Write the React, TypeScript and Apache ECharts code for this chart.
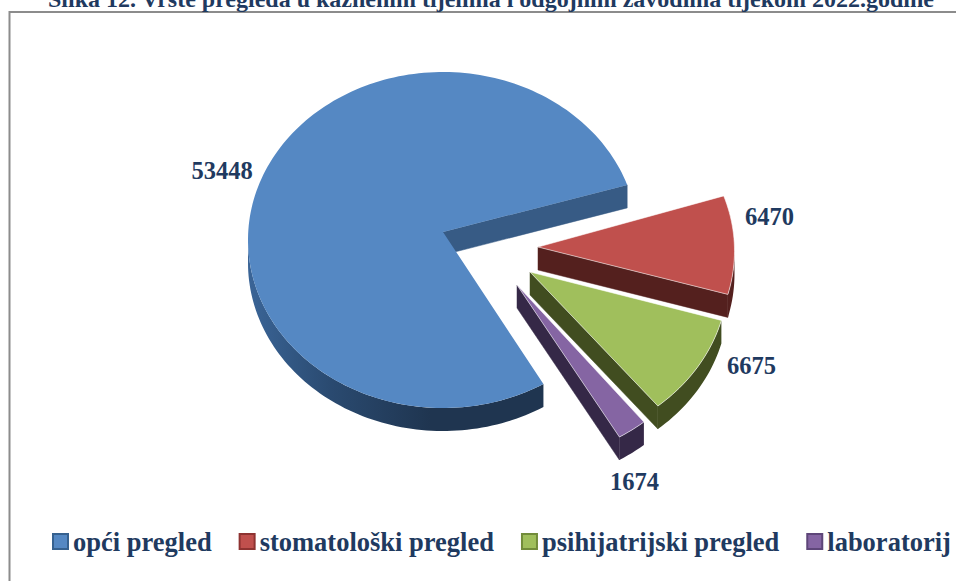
import React, { useEffect, useRef } from "react";
import * as echarts from "echarts";

const titleText = "Slika 12. Vrste pregleda u kaznenim tijelima i odgojnim zavodima tijekom 2022.godine";
const categories = ["opći pregled", "stomatološki pregled", "psihijatrijski pregled", "laboratorij"];
const values = [53448, 6470, 6675, 1674];

const topColors = ["#5588C3", "#C0504D", "#A0BF5C", "#8565A3"];
const wallColors = ["#375B85", "#54201E", "#414D20", "#352847"];
const legendBorders = ["#36618F", "#8E3331", "#728C3A", "#5E4679"];
const TEXT = "#1F3A60";
const FONT = "Liberation Serif";

// Perspective layout: explosion centres, apex shifts, label anchors
const centers = [[443, 240], [539.5, 251], [533, 277], [519, 293]];
const apexes = [[443, 232], [538, 247], [530, 272], [517, 285]];
const labelAnchors = [[222, 170], [769.5, 216], [751.5, 365], [634.5, 481]];
const RX = 195;
const RY = 168;
const DEPTH = 23;
const START_DEG = 59;
const total = values.reduce((a, b) => a + b, 0);

function sweep(i: number): [number, number] {
  let a = START_DEG;
  for (let k = 0; k < i; k++) a += (values[k] / total) * 360;
  return [a, a + (values[i] / total) * 360];
}

function renderSlice(i: number) {
  return (_: any, api: any) => {
    const v = api.value(0);
    const [a0, a1] = sweep(i);
    const [cx, cy] = centers[i];
    const [ax, ay] = apexes[i];
    const pt = (deg: number, dy = 0) => {
      const r = (deg * Math.PI) / 180;
      return [cx + RX * Math.cos(r), cy + RY * Math.sin(r) + dy];
    };
    const arc = (from: number, to: number, dy = 0) => {
      const out: number[][] = [];
      const n = Math.max(2, Math.ceil(Math.abs(to - from) / 1.5));
      for (let k = 0; k <= n; k++) out.push(pt(from + ((to - from) * k) / n, dy));
      return out;
    };
    const children: any[] = [];
    const wallQuad = (deg: number) => {
      const p = pt(deg);
      children.push({
        type: "polygon",
        shape: { points: [[ax, ay], p, [p[0], p[1] + DEPTH], [ax, ay + DEPTH]] },
        style: { fill: wallColors[i], stroke: wallColors[i], lineWidth: 0.5 },
      });
    };
    const cos = (d: number) => Math.cos((d * Math.PI) / 180);
    if (cos(a0) < 0) wallQuad(a0);
    if (cos(a1) > 0) wallQuad(a1);
    // outer rim: the part of the sweep that faces the viewer
    for (const [lo, hi] of [[0, 180], [360, 540]]) {
      const from = Math.max(a0, lo);
      const to = Math.min(a1, hi);
      if (to > from) {
        const upper = arc(from, to);
        const lower = arc(to, from, DEPTH);
        const fill =
          i === 0
            ? {
                type: "linear",
                global: true,
                x: 250,
                y: 0,
                x2: 430,
                y2: 0,
                colorStops: [
                  { offset: 0, color: "#3A6496" },
                  { offset: 0.45, color: "#2A4A70" },
                  { offset: 1, color: "#1F3550" },
                ],
              }
            : wallColors[i];
        children.push({
          type: "polygon",
          shape: { points: upper.concat(lower) },
          style: { fill, stroke: "none" },
        });
      }
    }
    children.push({
      type: "polygon",
      shape: { points: [[ax, ay]].concat(arc(a0, a1)) },
      style: { fill: topColors[i], stroke: "rgba(255,255,255,0.55)", lineWidth: i === 0 ? 0 : 1 },
    });
    children.push({
      type: "text",
      style: {
        x: labelAnchors[i][0],
        y: labelAnchors[i][1],
        text: String(v),
        fill: TEXT,
        font: `bold 24.5px "${FONT}"`,
        textAlign: "center",
        textVerticalAlign: "middle",
      },
    });
    return { type: "group", children };
  };
}

export default function App() {
  const ref = useRef<HTMLDivElement>(null);
  useEffect(() => {
    document.body.style.margin = "0";
    const chart = echarts.init(ref.current!, undefined, { renderer: "svg" });
    // red is painted last, so its wall overlaps the green face as in the picture
    const paintOrder = [0, 3, 2, 1];
    chart.setOption({
      animation: false,
      backgroundColor: "#fff",
      title: {
        text: titleText,
        left: 48,
        top: -13,
        padding: 0,
        textStyle: { fontFamily: FONT, fontWeight: "bold", fontSize: 24, color: TEXT },
      },
      legend: {
        left: 52,
        top: 528,
        width: 1100,
        itemWidth: 15,
        itemHeight: 15,
        itemGap: 27,
        padding: 0,
        selectedMode: false,
        data: categories.map((name, i) => ({
          name,
          icon: "rect",
          itemStyle: { color: topColors[i], borderColor: legendBorders[i], borderWidth: 2 },
        })),
        textStyle: { fontFamily: FONT, fontWeight: "bold", fontSize: 26.5, color: TEXT },
      },
      graphic: [
        {
          type: "rect",
          z: -1,
          silent: true,
          shape: { x: 9.5, y: 12, width: 1000, height: 620 },
          style: { fill: "none", stroke: "#8C8C8C", lineWidth: 2 },
        },
      ],
      series: paintOrder.map((i) => ({
        type: "custom",
        name: categories[i],
        coordinateSystem: "none",
        silent: true,
        itemStyle: { color: topColors[i] },
        data: [[values[i]]],
        renderItem: renderSlice(i),
      })),
    });
    return () => chart.dispose();
  }, []);
  return <div ref={ref} style={{ width: 956, height: 581 }} />;
}
